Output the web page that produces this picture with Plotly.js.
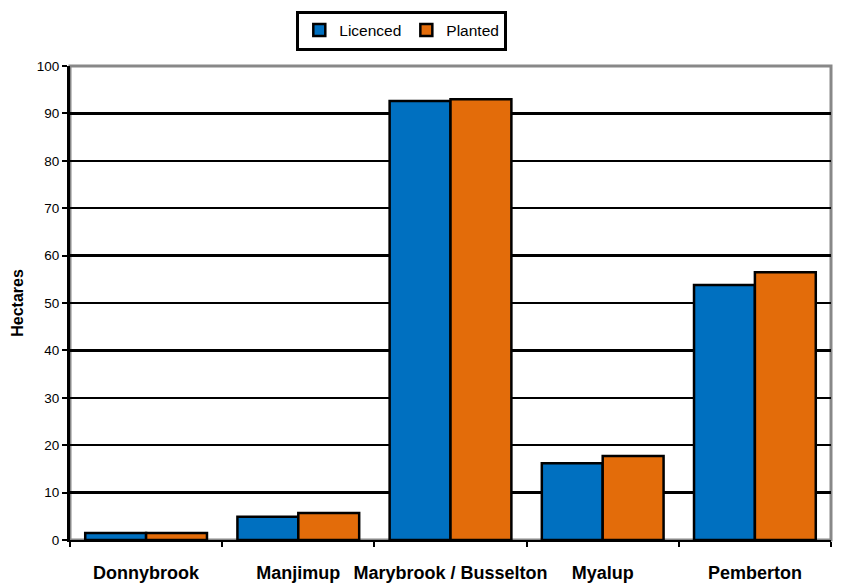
<!DOCTYPE html>
<html>
<head>
<meta charset="utf-8">
<script src="https://cdn.plot.ly/plotly-3.0.1.min.js"></script>
<style>html,body{margin:0;padding:0;background:#fff;}#chart{width:841px;height:586px;}</style>
</head>
<body>
<div id="chart"></div>
<script>
const categories = ["Donnybrook", "Manjimup", "Marybrook / Busselton", "Myalup", "Pemberton"];
const licenced = [1.5, 4.9, 92.6, 16.2, 53.8];
const planted = [1.5, 5.7, 93.0, 17.7, 56.5];
const yTicks = [0, 10, 20, 30, 40, 50, 60, 70, 80, 90, 100];

const traces = [
  {type: "bar", name: "Licenced", x: categories, y: licenced,
   marker: {color: "#0070C0", line: {color: "#000", width: 2.5}}},
  {type: "bar", name: "Planted", x: categories, y: planted,
   marker: {color: "#E36C0A", line: {color: "#000", width: 2.5}}}
];

const layout = {
  width: 841, height: 586,
  margin: {l: 70, r: 10, t: 66, b: 46},
  paper_bgcolor: "#fff", plot_bgcolor: "#fff",
  font: {family: "Liberation Sans, Arial, sans-serif", color: "#000"},
  barmode: "group", bargap: 0.2, bargroupgap: 0,
  showlegend: true,
  legend: {orientation: "h", x: 0.436, xanchor: "center", y: 1.117, yanchor: "top",
           bordercolor: "#000", borderwidth: 3, bgcolor: "#fff",
           font: {size: 15.5, family: "Liberation Sans, Arial, sans-serif"},
           itemwidth: 30, traceorder: "normal"},
  shapes: [
    {type: "rect", xref: "paper", yref: "paper", x0: 0, x1: 1, y0: 0, y1: 1,
     line: {color: "#888", width: 3}, layer: "below"}
  ],
  xaxis: {
    type: "category", tickson: "boundaries", ticks: "outside", ticklen: 5, tickwidth: 2, tickcolor: "#000",
    showline: true, linecolor: "#000", linewidth: 2, tickangle: 0, ticklabelstandoff: 15,
    tickfont: {size: 18, family: "Liberation Sans, Arial, sans-serif", weight: "bold"},
    showgrid: false, zeroline: false
  },
  yaxis: {
    range: [0, 100], tickvals: yTicks, ticktext: yTicks.map(String),
    ticks: "outside", ticklen: 5, tickwidth: 2, tickcolor: "#000",
    showline: true, linecolor: "#000", linewidth: 3,
    showgrid: true, gridcolor: "#000", gridwidth: 2.5,
    zeroline: false,
    tickfont: {size: 13.5},
    title: {text: "Hectares", font: {size: 16, weight: "bold"}, standoff: 10}
  }
};

Plotly.newPlot("chart", traces, layout, {displayModeBar: false, staticPlot: true});
</script>
</body>
</html>
